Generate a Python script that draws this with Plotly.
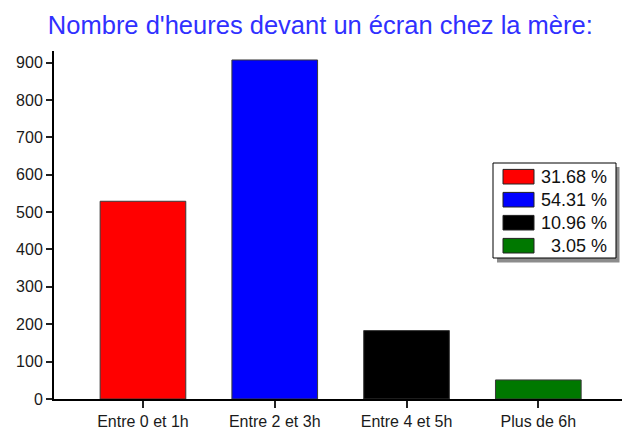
import plotly.graph_objects as go

categories = ["Entre 0 et 1h", "Entre 2 et 3h", "Entre 4 et 5h", "Plus de 6h"]
values = [529, 907, 183, 51]
colors = ["#ff0000", "#0000ff", "#000000", "#007800"]
title_text = "Nombre d'heures devant un écran chez la mère:"

W, H = 622, 431
L, R, T, B = 54, 0, 51, 32
pw, ph = W - L - R, H - T - B

def px(x):
    return (x - L) / pw

def py(y):
    return (H - B - y) / ph

total = sum(values)
pct_labels = ["%.2f %%" % (v / total * 100) for v in values]

FONT = "Liberation Sans, Arial"

fig = go.Figure()
fig.add_trace(go.Bar(
    x=categories, y=values, width=0.65,
    marker=dict(color=colors, line=dict(color="#3a3a3a", width=1)),
    showlegend=False, hoverinfo="x+y",
))

shapes = []
# legend shadow and box
shapes.append(dict(type="rect", xref="paper", yref="paper",
                   x0=px(497), x1=px(619.5), y0=py(262.5), y1=py(167),
                   fillcolor="#8c8c8c", line=dict(width=0), layer="above"))
shapes.append(dict(type="rect", xref="paper", yref="paper",
                   x0=px(493), x1=px(616), y0=py(258), y1=py(163),
                   fillcolor="white", line=dict(color="black", width=1), layer="above"))
annotations = []
row0, pitch = 176.7, 23
for i, (c, lab) in enumerate(zip(colors, pct_labels)):
    cy = row0 + i * pitch
    shapes.append(dict(type="rect", xref="paper", yref="paper",
                       x0=px(503), x1=px(534), y0=py(cy + 7.3), y1=py(cy - 7.3),
                       fillcolor=c, line=dict(color="#222222", width=1), layer="above"))
    annotations.append(dict(xref="paper", yref="paper", x=px(609), y=py(cy),
                            text=lab, showarrow=False, xanchor="right", yanchor="middle",
                            font=dict(family=FONT, size=18, color="#111111")))

fig.update_layout(
    width=W, height=H,
    margin=dict(l=L, r=R, t=T, b=B),
    paper_bgcolor="white", plot_bgcolor="white",
    title=dict(text=title_text, x=0.515, xanchor="center", y=1 - 25 / H, yanchor="middle",
               font=dict(family=FONT, size=25.5, color="#3030ff")),
    font=dict(family=FONT, size=16, color="#1a1a1a"),
    xaxis=dict(range=[-0.675, 3.635], showline=True, linecolor="black", linewidth=2,
               ticks="outside", ticklen=7, tickwidth=1.5, tickcolor="#222",
               showgrid=False, zeroline=False, tickfont=dict(size=16), automargin=False),
    yaxis=dict(range=[0, 931], dtick=100, showline=True, linecolor="black", linewidth=2,
               ticks="outside", ticklen=6, tickwidth=1.5, tickcolor="#222",
               showgrid=False, zeroline=False, tickfont=dict(size=16), automargin=False),
    shapes=shapes, annotations=annotations,
)

fig.write_html("out.html", config={"displayModeBar": False},
               post_script="document.body.style.margin='0px';")
